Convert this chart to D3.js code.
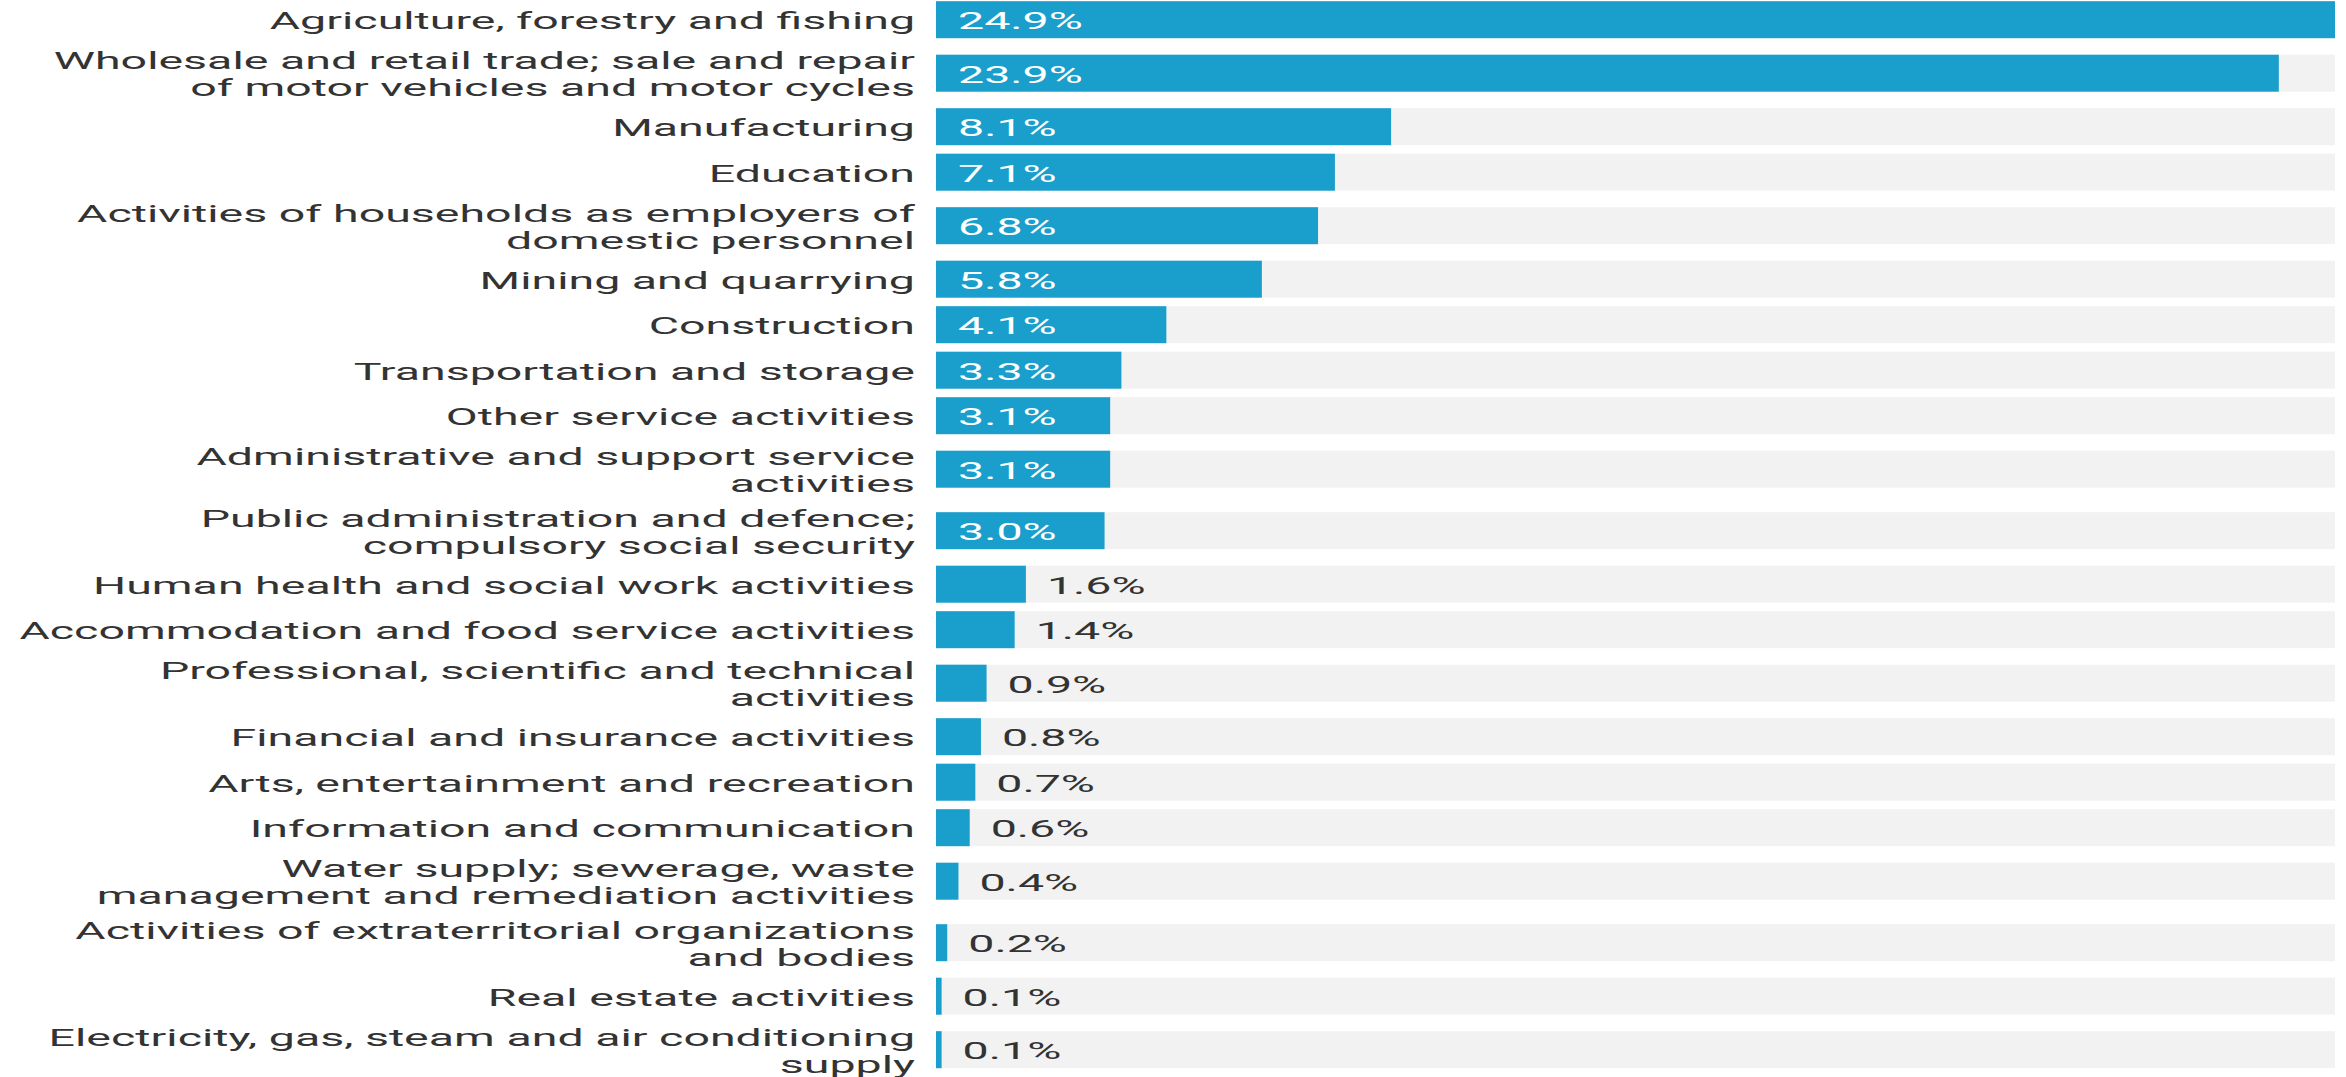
<!DOCTYPE html>
<html>
<head>
<meta charset="utf-8">
<script src="https://cdn.jsdelivr.net/npm/d3@7"></script>
<style>
  html, body { margin: 0; padding: 0; background: #ffffff; }
  svg { display: block; }
  text { font-family: Roboto, "Noto Sans", sans-serif; }
</style>
</head>
<body>
<script>
// Employment share by economic sector (%), labels broken into lines with "\n"
const categories = [
  "Agriculture, forestry and fishing",
  "Wholesale and retail trade; sale and repair\nof motor vehicles and motor cycles",
  "Manufacturing",
  "Education",
  "Activities of households as employers of\ndomestic personnel",
  "Mining and quarrying",
  "Construction",
  "Transportation and storage",
  "Other service activities",
  "Administrative and support service\nactivities",
  "Public administration and defence;\ncompulsory social security",
  "Human health and social work activities",
  "Accommodation and food service activities",
  "Professional, scientific and technical\nactivities",
  "Financial and insurance activities",
  "Arts, entertainment and recreation",
  "Information and communication",
  "Water supply; sewerage, waste\nmanagement and remediation activities",
  "Activities of extraterritorial organizations\nand bodies",
  "Real estate activities",
  "Electricity, gas, steam and air conditioning\nsupply"
];
const shares = [24.9, 23.9, 8.1, 7.1, 6.8, 5.8, 4.1, 3.3, 3.1, 3.1, 3.0,
                1.6, 1.4, 0.9, 0.8, 0.7, 0.6, 0.4, 0.2, 0.1, 0.1];

const W = 2346, H = 1077;
const barLeft = 936, barRight = 2335;
const labelX = 915;
const barH = 37;
const fontSize = 23.5;
const stretch = 1.98;     // horizontal stretch applied to all text
const lineGap = 27;
const baseShift = 9.5;
const blue = "#1a9fcc", track = "#f2f2f2", ink = "#333333";

const rows = categories.map((c, i) => ({
  lines: c.split("\n"),
  value: shares[i]
}));
// a two-line row takes more vertical room than a single-line row
rows.forEach(r => r.units = r.lines.length > 1 ? 61.5 / 45.5 : 1);
let acc = 0;
rows.forEach(r => { r.start = acc; acc += r.units; });
const totalUnits = acc;

const y = d3.scaleLinear().domain([0, totalUnits]).range([-3.05, 1080.45]);
const x = d3.scaleLinear().domain([0, d3.max(shares)]).range([barLeft, barRight]);
const fmt = d3.format(".1f");

const svg = d3.select("body").append("svg")
  .attr("width", W).attr("height", H);

const g = svg.selectAll("g.row").data(rows).join("g").attr("class", "row")
  .attr("transform", d => `translate(0,${y(d.start + d.units / 2)})`);

// full-length background track
g.append("rect")
  .attr("x", x(0)).attr("y", -barH / 2)
  .attr("width", x.range()[1] - x(0)).attr("height", barH)
  .attr("fill", track);

// value bar
g.append("rect")
  .attr("x", x(0)).attr("y", -barH / 2)
  .attr("width", d => x(d.value) - x(0)).attr("height", barH)
  .attr("fill", blue);

// category label, right aligned, possibly two lines
g.append("g")
  .attr("transform", `translate(${labelX},0) scale(${stretch},1)`)
  .append("text")
  .attr("text-anchor", "end")
  .attr("font-size", fontSize)
  .attr("fill", ink)
  .each(function (d) {
    const t = d3.select(this);
    const n = d.lines.length;
    d.lines.forEach((line, k) => {
      t.append("tspan")
        .attr("x", 0)
        .attr("y", (k - (n - 1) / 2) * lineGap + baseShift)
        .text(line);
    });
  });

// value label: inside the bar when it fits, otherwise just after it
g.each(function (d) {
  const grp = d3.select(this);
  const lab = grp.append("g");
  const txt = lab.append("text")
    .attr("font-size", fontSize)
    .attr("y", baseShift)
    .text(fmt(d.value) + "%");
  const w = txt.node().getComputedTextLength() * stretch;
  const barW = x(d.value) - x(0);
  const inside = w + 44 < barW;
  const tx = inside ? x(0) + 22 : x(d.value) + 21;
  txt.attr("fill", inside ? "#ffffff" : ink);
  lab.attr("transform", `translate(${tx},0) scale(${stretch},1)`);
});
</script>
</body>
</html>
